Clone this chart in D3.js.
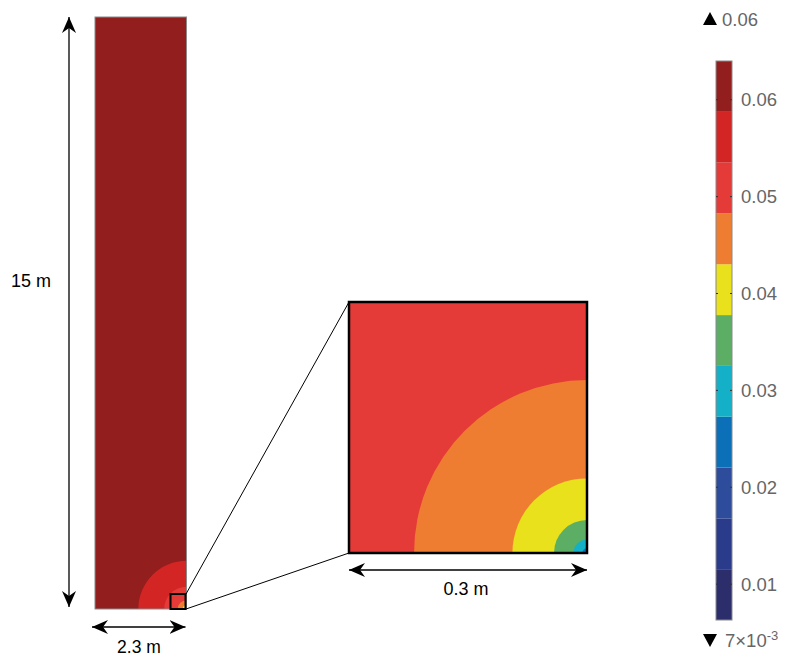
<!DOCTYPE html>
<html>
<head>
<meta charset="utf-8">
<script src="https://cdn.jsdelivr.net/npm/d3@7"></script>
<style>
  body { margin: 0; background: #fff; }
  svg { display: block; font-family: "Liberation Sans", Arial, sans-serif; }
</style>
</head>
<body>
<svg id="chart" width="785" height="657"></svg>
<script>
// Colour range of the field (same units as the legend)
const fieldMin = 0.0063;
const fieldMax = 0.0640;
const bandCount = 11;
const bandColors = [
  "#2c2e6c", "#2b3b8c", "#2d4d9c", "#0b70b8", "#14b0c8", "#5bae64",
  "#e9e11b", "#ef7d31", "#e53b38", "#d42525", "#921e1e"
];
const legendTicks = [0.01, 0.02, 0.03, 0.04, 0.05, 0.06];
const maxLabel = "0.06";
const minLabelBase = "7×10";
const minLabelExp = "-3";

// Contour levels of the field and their distance (m) from the bottom-right corner
const contourLevels = [0.0587, 0.0535, 0.0483, 0.0430, 0.0378, 0.0325, 0.0273];
const contourRadius = [1.21, 0.56, 0.218, 0.094, 0.0416, 0.017, 0.006];

// Domain sizes (m)
const domainWidth = 2.3;
const domainHeight = 15;
const zoomSize = 0.3;
const widthLabel = "2.3 m";
const heightLabel = "15 m";
const zoomLabel = "0.3 m";

const svg = d3.select("#chart");

const step = (fieldMax - fieldMin) / bandCount;
const thresholds = d3.range(1, bandCount).map(i => fieldMin + i * step);
const color = d3.scaleThreshold().domain(thresholds).range(bandColors);

// Arrow head
const defs = svg.append("defs");
defs.append("marker")
  .attr("id", "head")
  .attr("viewBox", "-16 -8 18 16")
  .attr("markerWidth", 18).attr("markerHeight", 16)
  .attr("refX", 0).attr("refY", 0)
  .attr("markerUnits", "userSpaceOnUse")
  .attr("orient", "auto-start-reverse")
  .append("path")
  .attr("d", "M0,0 L-16,-7 L-11,0 L-16,7 Z")
  .attr("fill", "#000");

function drawContours(g, xs, ys, clipId) {
  const x0 = xs.range()[0], x1 = xs.range()[1];
  const y0 = ys.range()[1], y1 = ys.range()[0];
  defs.append("clipPath").attr("id", clipId)
    .append("rect").attr("x", x0).attr("y", y0)
    .attr("width", x1 - x0).attr("height", y1 - y0);
  const cg = g.append("g").attr("clip-path", `url(#${clipId})`);
  cg.append("rect").attr("x", x0).attr("y", y0)
    .attr("width", x1 - x0).attr("height", y1 - y0)
    .attr("fill", color(fieldMax - step / 2));
  const cx = xs(xs.domain()[1]), cy = ys(0);
  const px = r => xs(xs.domain()[1]) - xs(xs.domain()[1] - r);
  cg.selectAll("circle").data(contourLevels.map((v, i) => ({v, r: contourRadius[i]})))
    .join("circle")
    .attr("cx", cx).attr("cy", cy)
    .attr("r", d => px(d.r))
    .attr("fill", d => color(d.v - step / 2));
}

// Full domain
const xMain = d3.scaleLinear().domain([0, domainWidth]).range([95, 186.5]);
const yMain = d3.scaleLinear().domain([0, domainHeight]).range([609, 17]);
const gMain = svg.append("g");
drawContours(gMain, xMain, yMain, "clipMain");
gMain.append("rect")
  .attr("x", xMain(0)).attr("y", yMain(domainHeight))
  .attr("width", xMain(domainWidth) - xMain(0))
  .attr("height", yMain(0) - yMain(domainHeight))
  .attr("fill", "none").attr("stroke", "#8a8a8a").attr("stroke-width", 1);

// Zoomed corner
const xZoom = d3.scaleLinear().domain([domainWidth - zoomSize, domainWidth]).range([349, 587]);
const yZoom = d3.scaleLinear().domain([0, zoomSize]).range([553, 302]);
const gZoom = svg.append("g");
drawContours(gZoom, xZoom, yZoom, "clipZoom");
gZoom.append("rect")
  .attr("x", xZoom.range()[0]).attr("y", yZoom.range()[1])
  .attr("width", xZoom.range()[1] - xZoom.range()[0])
  .attr("height", yZoom.range()[0] - yZoom.range()[1])
  .attr("fill", "none").attr("stroke", "#000").attr("stroke-width", 2.5);

// Marker box in the full domain and connector lines
const markerSize = 16;
const mx1 = xMain(domainWidth), my1 = yMain(0);
svg.append("rect")
  .attr("x", mx1 - markerSize).attr("y", my1 - markerSize + 1)
  .attr("width", markerSize - 1).attr("height", markerSize - 1)
  .attr("fill", "none").attr("stroke", "#000").attr("stroke-width", 2);
svg.append("line")
  .attr("x1", mx1 - 0.5).attr("y1", my1 - markerSize + 1)
  .attr("x2", xZoom.range()[0]).attr("y2", yZoom.range()[1])
  .attr("stroke", "#000").attr("stroke-width", 1);
svg.append("line")
  .attr("x1", mx1 - 0.5).attr("y1", my1)
  .attr("x2", xZoom.range()[0]).attr("y2", yZoom.range()[0])
  .attr("stroke", "#000").attr("stroke-width", 1);

// Dimension arrows
function dimArrow(x1, y1, x2, y2) {
  svg.append("line")
    .attr("x1", x1).attr("y1", y1).attr("x2", x2).attr("y2", y2)
    .attr("stroke", "#000").attr("stroke-width", 1.3)
    .attr("marker-start", "url(#head)").attr("marker-end", "url(#head)");
}
dimArrow(69, yMain(domainHeight), 69, yMain(0) - 2);
dimArrow(xMain(0) - 3, 627, xMain(domainWidth) - 1, 627);
dimArrow(xZoom.range()[0], 570, xZoom.range()[1], 570);

svg.append("text").attr("x", 31).attr("y", 287)
  .attr("text-anchor", "middle").attr("font-size", 18).text(heightLabel);
svg.append("text").attr("x", 139).attr("y", 653)
  .attr("text-anchor", "middle").attr("font-size", 17.5).text(widthLabel);
svg.append("text").attr("x", 466).attr("y", 595)
  .attr("text-anchor", "middle").attr("font-size", 18).text(zoomLabel);

// Colour legend
const yLeg = d3.scaleLinear().domain([fieldMin, fieldMax]).range([620, 61]);
const legX = 716, legW = 16;
const gLeg = svg.append("g");
const bandEdges = [fieldMin, ...thresholds, fieldMax];
gLeg.selectAll("rect.band").data(d3.range(bandCount))
  .join("rect").attr("class", "band")
  .attr("x", legX).attr("width", legW)
  .attr("y", i => yLeg(bandEdges[i + 1]))
  .attr("height", i => yLeg(bandEdges[i]) - yLeg(bandEdges[i + 1]))
  .attr("fill", i => bandColors[i]);
gLeg.append("rect")
  .attr("x", legX).attr("y", yLeg(fieldMax))
  .attr("width", legW).attr("height", yLeg(fieldMin) - yLeg(fieldMax))
  .attr("fill", "none").attr("stroke", "#8a8a8a").attr("stroke-width", 1);

const legAxis = d3.axisRight(yLeg).tickValues(legendTicks)
  .tickFormat(d3.format(".2f")).tickSize(0).tickPadding(9);
const ax = gLeg.append("g").attr("transform", `translate(${legX + legW},0)`).call(legAxis);
ax.select(".domain").remove();
ax.selectAll("text").attr("font-size", 18.5).attr("fill", "#666")
  .attr("font-family", "'Liberation Sans', Arial, sans-serif");
gLeg.selectAll("line.tk").data(legendTicks).join("line").attr("class", "tk")
  .attr("x1", legX).attr("x2", legX + 2)
  .attr("y1", d => yLeg(d)).attr("y2", d => yLeg(d))
  .attr("stroke", "#333");
gLeg.selectAll("line.tk2").data(legendTicks).join("line").attr("class", "tk2")
  .attr("x1", legX + legW - 2).attr("x2", legX + legW)
  .attr("y1", d => yLeg(d)).attr("y2", d => yLeg(d))
  .attr("stroke", "#333");

// Max / min markers
svg.append("path").attr("d", "M703,25 L710,12 L717,25 Z").attr("fill", "#000");
svg.append("text").attr("x", 722).attr("y", 25.5)
  .attr("font-size", 18.5).attr("fill", "#666").text(maxLabel);
svg.append("path").attr("d", "M703,634 L717,634 L710,647 Z").attr("fill", "#000");
const tMin = svg.append("text").attr("x", 725).attr("y", 647)
  .attr("font-size", 18.5).attr("fill", "#666");
tMin.append("tspan").text(minLabelBase);
tMin.append("tspan").attr("dy", -7).attr("font-size", 13).text(minLabelExp);
</script>
</body>
</html>
